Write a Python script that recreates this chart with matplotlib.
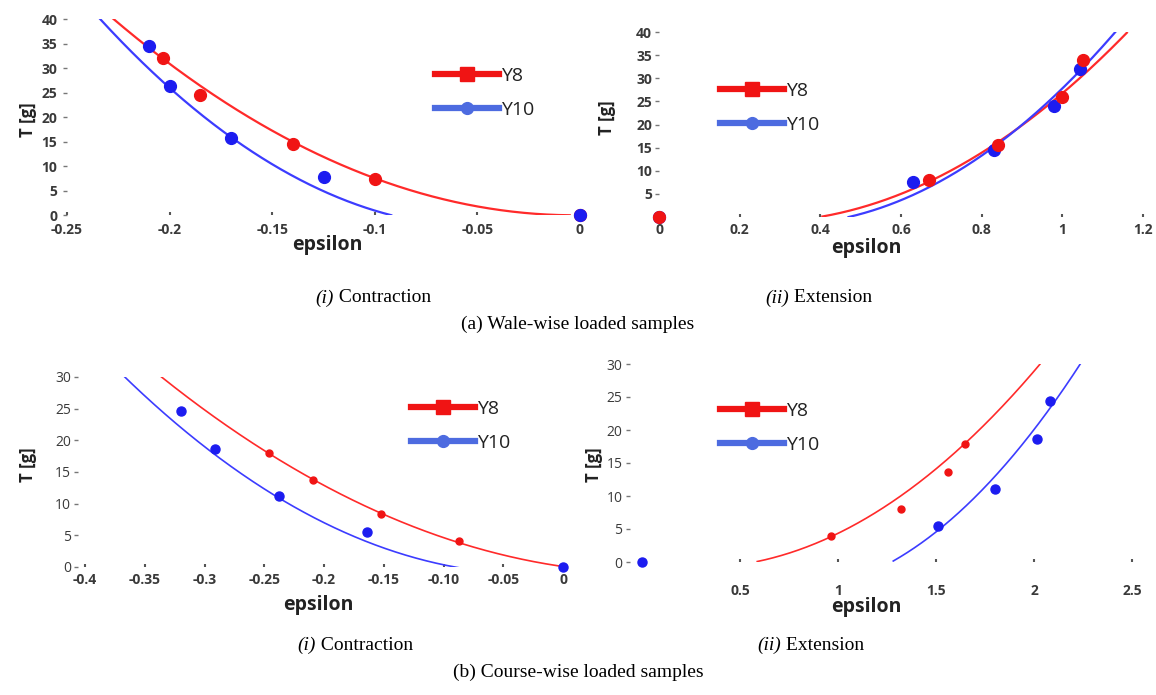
import numpy as np
import matplotlib.pyplot as plt
from matplotlib.lines import Line2D

W, H = 1156, 695

# ---- measured points: (a) wale-wise
a1_y8_x = [0.0, -0.1, -0.14, -0.185, -0.203]
a1_y8_t = [0.0, 7.3, 14.5, 24.5, 32.0]
a1_y10_x = [0.0, -0.125, -0.17, -0.2, -0.21]
a1_y10_t = [0.0, 7.8, 15.8, 26.3, 34.5]
a2_y8_x = [0.0, 0.67, 0.84, 1.0, 1.05]
a2_y8_t = [0.0, 8.0, 15.5, 26.0, 34.0]
a2_y10_x = [0.0, 0.63, 0.83, 0.98, 1.045]
a2_y10_t = [0.0, 7.5, 14.5, 24.0, 32.0]
# ---- measured points: (b) course-wise
b1_y8_x = [0.0, -0.087, -0.152, -0.209, -0.246]
b1_y8_t = [0.0, 4.1, 8.3, 13.8, 18.0]
b1_y10_x = [0.0, -0.164, -0.238, -0.291, -0.32]
b1_y10_t = [0.0, 5.6, 11.2, 18.7, 24.6]
b2_y8_x = [0.0, 0.963, 1.32, 1.56, 1.648]
b2_y8_t = [0.0, 4.0, 8.1, 13.6, 17.9]
b2_y10_x = [0.0, 1.512, 1.8, 2.017, 2.082]
b2_y10_t = [0.0, 5.4, 11.1, 18.6, 24.4]

# ---- trendlines, values (first/last = ends)
a1_y8_fx = [-0.228, -0.2, -0.14, -0.1, -0.005]
a1_y8_ft = [40, 31.2, 15.0, 7.3, 0]
a1_y10_fx = [-0.234, -0.2, -0.17, -0.125, -0.092]
a1_y10_ft = [40, 26.1, 15.8, 4.8, 0]
a2_y8_fx = [0.405, 0.67, 0.84, 1.0, 1.16]
a2_y8_ft = [0, 8.0, 16.0, 26.5, 40]
a2_y10_fx = [0.47, 0.63, 0.83, 1.045, 1.133]
a2_y10_ft = [0, 4.8, 15.0, 32.0, 40]
b1_y8_fx = [-0.336, -0.246, -0.209, -0.152, -0.087, 0.0]
b1_y8_ft = [30, 18.0, 13.8, 8.2, 4.1, 0]
b1_y10_fx = [-0.37, -0.32, -0.238, -0.164, -0.087]
b1_y10_ft = [30, 23.0, 11.0, 3.2, 0.25]
b2_y8_fx = [0.588, 0.963, 1.3, 1.648, 2.03]
b2_y8_ft = [0, 4.0, 9.5, 17.9, 30]
b2_y10_fx = [1.282, 1.512, 1.8, 2.082, 2.24]
b2_y10_ft = [0, 5.4, 12.0, 24.3, 29.75]

RED = "#f01414"
BLUE = "#1c1cf0"
LRED = "#ff2a2a"
LBLUE = "#3c3cff"
LEGBLUE = "#4d6be0"
TICKC = "#3a3a3a"


def rect(x0, y0, x1, y1):
    return [x0 / W, 1 - y1 / H, (x1 - x0) / W, (y1 - y0) / H]


def trend(ax, fx, ft, color, lw):
    c = np.polyfit(fx, ft, 2)
    xs = np.linspace(fx[0], fx[-1], 400)
    ax.plot(xs, np.polyval(c, xs), color=color, lw=lw)


def style(ax, xt, xl, yt, yl, xpad):
    for s in ax.spines.values():
        s.set_visible(False)
    ax.set_xticks(xt)
    ax.set_xticklabels(xl)
    ax.set_yticks(yt)
    ax.set_yticklabels(yl)
    ax.tick_params(axis="y", length=3, width=1, color="#777777", pad=2,
                   labelsize=10, labelcolor=TICKC)
    ax.tick_params(axis="x", length=2, width=1.5, direction="in", color="#555555",
                   pad=xpad, labelsize=10, labelcolor=TICKC)
    for lab in ax.get_xticklabels() + ax.get_yticklabels():
        lab.set_fontweight("bold")
    ax.patch.set_alpha(0)


def legend(ax, x, y):
    h = [Line2D([], [], color=RED, lw=4.5, marker="s", ms=10.5),
         Line2D([], [], color=LEGBLUE, lw=4.5, marker="o", ms=8.5)]
    ax.legend(h, ["Y8", "Y10"], loc="center left", bbox_to_anchor=(x / W, 1 - y / H),
              bbox_transform=ax.figure.transFigure, frameon=False, borderpad=0,
              handlelength=3.3, handletextpad=0.1, labelspacing=0.8,
              prop={"family": "Open Sans", "size": 14}, labelcolor="#222222")


plt.rcParams["font.family"] = ["Open Sans", "DejaVu Sans"]
fig = plt.figure(figsize=(W / 100, H / 100), dpi=100)

# ---- a(i)
ax = fig.add_axes(rect(67, 19, 580, 215))
ax.set_xlim(-0.25, 0.0)
ax.set_ylim(0, 40)
trend(ax, a1_y8_fx, a1_y8_ft, LRED, 1.6)
trend(ax, a1_y10_fx, a1_y10_ft, LBLUE, 1.6)
ax.plot(a1_y8_x, a1_y8_t, "o", color=RED, ms=8.5, clip_on=False, zorder=3)
ax.plot(a1_y10_x, a1_y10_t, "o", color=BLUE, ms=8.5, clip_on=False, zorder=3)
style(ax, [-0.25, -0.2, -0.15, -0.1, -0.05, 0],
      ["-0.25", "-0.2", "-0.15", "-0.1", "-0.05", "0"],
      list(range(0, 41, 5)), [str(v) for v in range(0, 41, 5)], 6)
ax.tick_params(axis="y", pad=4)
legend(ax, 425, 93)

# ---- a(ii)
ax = fig.add_axes(rect(659, 32, 1143, 217))
ax.set_xlim(0, 1.2)
ax.set_ylim(0, 40)
trend(ax, a2_y8_fx, a2_y8_ft, LRED, 1.6)
trend(ax, a2_y10_fx, a2_y10_ft, LBLUE, 1.6)
ax.plot(a2_y10_x, a2_y10_t, "o", color=BLUE, ms=8.5, clip_on=False, zorder=3)
ax.plot(a2_y8_x, a2_y8_t, "o", color=RED, ms=8.5, clip_on=False, zorder=3)
style(ax, [0, 0.2, 0.4, 0.6, 0.8, 1, 1.2],
      ["0", "0.2", "0.4", "0.6", "0.8", "1", "1.2"],
      list(range(5, 41, 5)), [str(v) for v in range(5, 41, 5)], 4)
legend(ax, 710, 108)

# ---- b(i)
ax = fig.add_axes(rect(85, 377, 563, 567))
ax.set_xlim(-0.4, 0.0)
ax.set_ylim(0, 30)
trend(ax, b1_y8_fx, b1_y8_ft, LRED, 1.2)
trend(ax, b1_y10_fx, b1_y10_ft, LBLUE, 1.2)
ax.plot(b1_y8_x, b1_y8_t, "o", color=RED, ms=5, clip_on=False, zorder=3)
ax.plot(b1_y10_x, b1_y10_t, "o", color=BLUE, ms=6.5, clip_on=False, zorder=3)
style(ax, [-0.4, -0.35, -0.3, -0.25, -0.2, -0.15, -0.1, -0.05, 0],
      ["-0.4", "-0.35", "-0.3", "-0.25", "-0.2", "-0.15", "-0.10", "-0.05", "0"],
      list(range(0, 31, 5)), [str(v) for v in range(0, 31, 5)], 4)
ax.spines["left"].set_position(("outward", 5))
legend(ax, 401, 426)

# ---- b(ii)
ax = fig.add_axes(rect(642, 364, 1132, 562))
ax.set_xlim(0, 2.5)
ax.set_ylim(0, 30)
trend(ax, b2_y8_fx, b2_y8_ft, LRED, 1.2)
trend(ax, b2_y10_fx, b2_y10_ft, LBLUE, 1.2)
ax.plot(b2_y8_x, b2_y8_t, "o", color=RED, ms=5, clip_on=False, zorder=3)
ax.plot(b2_y10_x, b2_y10_t, "o", color=BLUE, ms=6.5, clip_on=False, zorder=3)
style(ax, [0.5, 1, 1.5, 2, 2.5], ["0.5", "1", "1.5", "2", "2.5"],
      list(range(0, 31, 5)), [str(v) for v in range(0, 31, 5)], 16)
ax.spines["left"].set_position(("outward", 9))
legend(ax, 710, 428)

# axis titles
lab = dict(fontweight="bold", color="#222222", ha="center", va="center")
for x, y in [(327, 245), (866, 248), (318, 605), (866, 607)]:
    fig.text(x / W, 1 - y / H, "epsilon", fontsize=14, **lab)
for x, y in [(28, 120), (607, 118), (28, 465), (594, 465)]:
    fig.text(x / W, 1 - y / H, "T [g]", fontsize=12, rotation=90, **lab)

# captions
serif = "Liberation Serif"
for xs, y, roman, name in [(334, 298, "(i)", " Contraction"),
                           (789, 298, "(ii)", " Extension"),
                           (316, 645, "(i)", " Contraction"),
                           (781, 645, "(ii)", " Extension")]:
    fig.text(xs / W, 1 - y / H, roman, family=serif, style="italic", fontsize=14,
             ha="right", va="center")
    fig.text(xs / W, 1 - y / H, name, family=serif, fontsize=14, ha="left", va="center")
fig.text(578 / W, 1 - 324 / H, "(a) Wale-wise loaded samples", family=serif,
         fontsize=14, ha="center", va="center")
fig.text(578 / W, 1 - 672 / H, "(b) Course-wise loaded samples", family=serif,
         fontsize=14, ha="center", va="center")

fig.savefig("out.png", dpi=100)
